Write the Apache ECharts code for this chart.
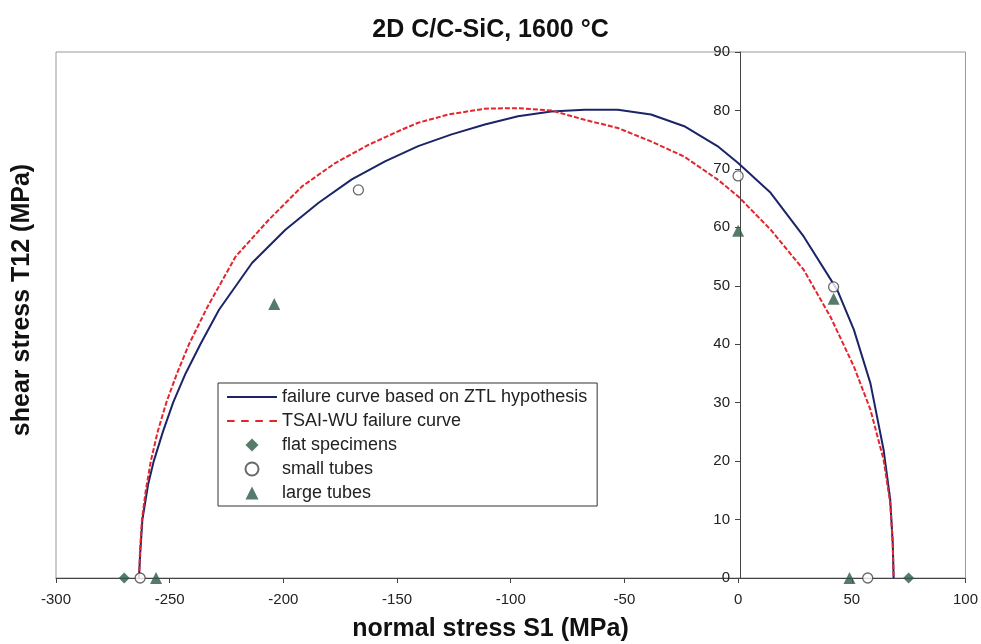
<!DOCTYPE html>
<html>
<head>
<meta charset="utf-8">
<script src="https://cdn.jsdelivr.net/npm/echarts@6/dist/echarts.min.js"></script>
<style>html,body{margin:0;padding:0;background:#fff}#c{width:981px;height:644px}</style>
</head>
<body>
<div id="c"></div>
<script>
// ---- data ----
const xTicks = [-300, -250, -200, -150, -100, -50, 0, 50, 100];
const yTicks = [0, 10, 20, 30, 40, 50, 60, 70, 80, 90];

const ztlS1  = [-263.5,-263,-262,-259.5,-257,-253,-248.5,-243,-236.5,-228.3,-213.8,-199.1,-184.5,-169.9,-155.3,-140.7,-126,-111.4,-96.8,-82.2,-67.5,-52.9,-38.3,-23.7,-9.1,0,14.3,28.9,43.6,50.9,58.2,64,66.9,68,68.4];
const ztlT12 = [0,4,10,16,20,25,30,35,40,45.9,53.9,59.6,64.2,68.2,71.3,73.9,75.9,77.6,79.0,79.8,80.1,80.1,79.3,77.3,73.9,71,65.9,58.4,49.3,42.5,33.3,21.9,13.4,6,0];

const twS1  = [-263.5,-263,-262.2,-260.5,-258.3,-255.3,-251.5,-246.8,-241.5,-233.5,-221,-206.4,-191.8,-177.2,-162.6,-148,-140.7,-127.5,-111.4,-96.8,-82.2,-67.5,-52.9,-38.3,-23.7,-9.1,0,14.3,28.9,40.6,50.9,58.2,64,66.9,68,68.4];
const twT12 = [0,5,10,15,20,25,30,35,40,46.3,55,61.3,67,71,74.1,76.7,77.9,79.3,80.3,80.4,80,78.4,77,74.7,72.1,68.2,65.3,59.6,52.7,44.7,36.2,28.8,20.2,12.8,6,0];

const flatS1  = [-270, 75];
const flatT12 = [0, 0];
const smallS1  = [-263, -167, 0, 42, 57];
const smallT12 = [0, 66.4, 68.8, 49.8, 0];
const largeS1  = [-256, -204, 0, 42, 49];
const largeT12 = [0, 46.9, 59.4, 47.8, 0];

const names = ['failure curve based on ZTL hypothesis', 'TSAI-WU failure curve', 'flat specimens', 'small tubes', 'large tubes'];

const zip = (a, b) => a.map((v, i) => [v, b[i]]);

const chart = echarts.init(document.getElementById('c'));
const FONT = '"Liberation Sans", Arial, sans-serif';
const xMin = xTicks[0], xMax = xTicks[xTicks.length - 1];
const gridLeft = 56, gridRight = 13, gridW = 981 - gridLeft - gridRight;
const yAxisOffset = -gridW * (0 - xMin) / (xMax - xMin);

chart.setOption({
  animation: false,
  backgroundColor: '#fff',
  title: {
    text: '2D C/C-SiC, 1600 °C', left: 'center', top: 13,
    textStyle: { fontFamily: FONT, fontSize: 25, fontWeight: 'bold', color: '#111' }
  },
  grid: { left: gridLeft, right: gridRight, top: 52, bottom: 66, show: true, borderColor: '#999', borderWidth: 1 },
  xAxis: {
    type: 'value', min: xMin, max: xMax, interval: 50,
    axisLine: { lineStyle: { color: '#444' } },
    axisTick: { show: true, length: 5, lineStyle: { color: '#444' } },
    axisLabel: { margin: 14, fontFamily: FONT, fontSize: 15, color: '#222' },
    splitLine: { show: false }
  },
  yAxis: {
    type: 'value', min: yTicks[0], max: yTicks[yTicks.length - 1], interval: 10,
    offset: yAxisOffset,
    axisLine: { show: true, onZero: false, lineStyle: { color: '#444' } },
    axisTick: { show: true, length: 5, lineStyle: { color: '#444' } },
    axisLabel: { margin: 10, fontFamily: FONT, fontSize: 15, color: '#222' },
    splitLine: { show: false }
  },
  legend: {
    orient: 'vertical', left: 218, top: 383,
    data: [
      { name: names[0], icon: 'path://M0,0L50,0L50,2L0,2Z' },
      { name: names[1], icon: 'path://M0,0h7v2h-7z M13,0h7v2h-7z M26,0h7v2h-7z M39,0h7v2h-7z' },
      { name: names[2], icon: 'path://M0,-1L1,0L0,1L-1,0Z' },
      { name: names[3] },
      { name: names[4], icon: 'path://M0,-1L1,1L-1,1Z' }
    ],
    symbolKeepAspect: true,
    itemWidth: 50, itemHeight: 13, itemGap: 6,
    padding: [5, 10, 4, 9],
    backgroundColor: '#fff', borderColor: '#333', borderWidth: 1, borderRadius: 0,
    textStyle: { fontFamily: FONT, fontSize: 18, color: '#222', lineHeight: 18 }
  },
  graphic: [
    { type: 'text', left: 'center', top: 617, style: { text: 'normal stress S1 (MPa)', font: 'bold 25px ' + FONT, fill: '#111' } },
    { type: 'text', rotation: Math.PI / 2, x: 22, y: 300, style: { text: 'shear stress T12 (MPa)', font: 'bold 25px ' + FONT, fill: '#111', align: 'center', verticalAlign: 'middle' } }
  ],
  series: [
    { name: names[0], type: 'line', data: zip(ztlS1, ztlT12), symbol: 'none', z: 2,
      lineStyle: { color: '#1c2468', width: 2 }, itemStyle: { color: '#1c2468' } },
    { name: names[1], type: 'line', data: zip(twS1, twT12), symbol: 'none', z: 2,
      lineStyle: { color: '#e2262c', width: 2, type: [5, 2] }, itemStyle: { color: '#e2262c' } },
    { name: names[2], type: 'scatter', data: zip(flatS1, flatT12), symbol: 'diamond', symbolSize: 11, z: 5,
      itemStyle: { color: '#2d5a45' } },
    { name: names[3], type: 'scatter', data: zip(smallS1, smallT12), symbol: 'circle', symbolSize: 10, z: 5,
      itemStyle: { color: '#fff', borderColor: '#444', borderWidth: 1.3 } },
    { name: names[4], type: 'scatter', data: zip(largeS1, largeT12), symbol: 'triangle', symbolSize: 12, z: 5,
      itemStyle: { color: '#2d5a45' } }
  ]
});
</script>
</body>
</html>
